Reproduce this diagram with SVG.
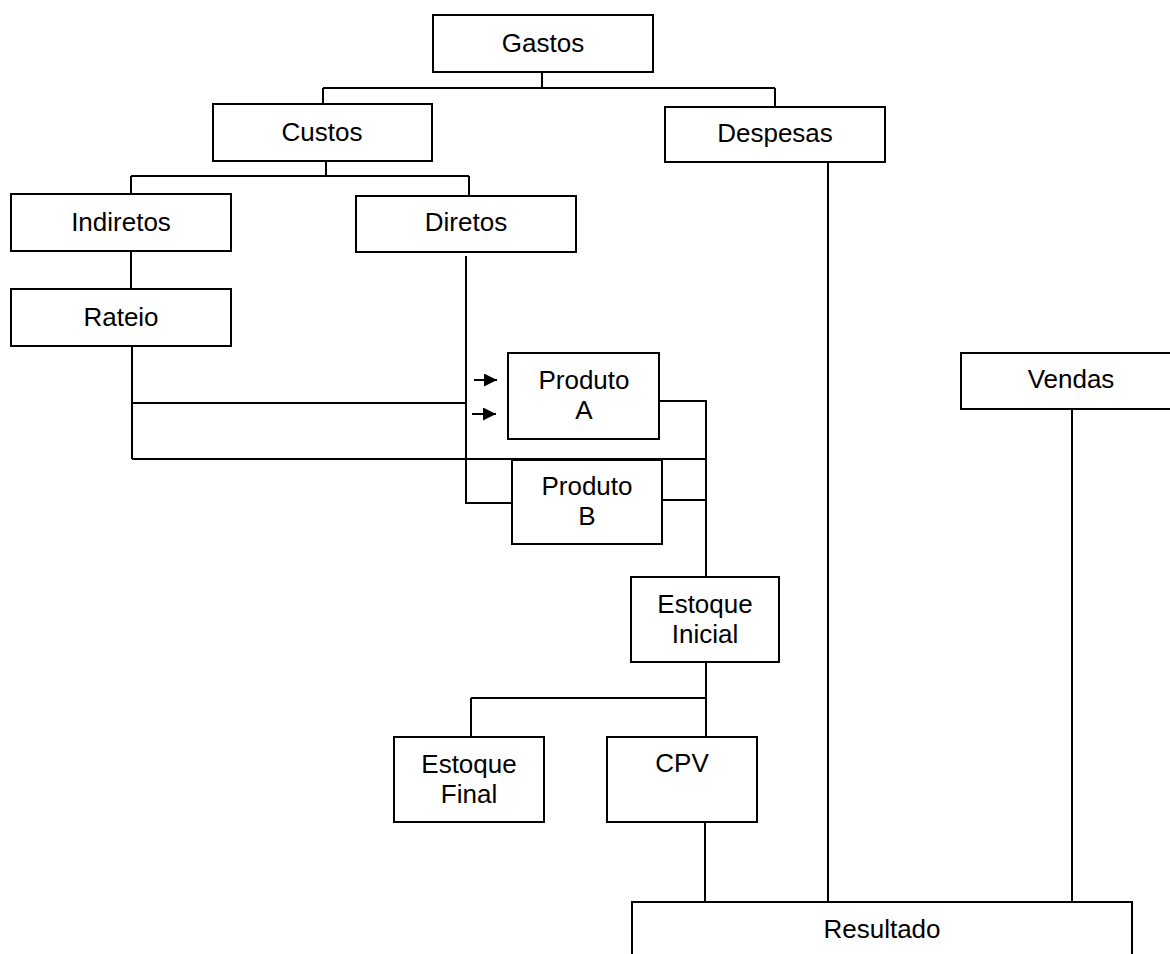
<svg xmlns="http://www.w3.org/2000/svg" width="1170" height="954" viewBox="0 0 1170 954">
<defs>
<style>
.box{fill:#fff;stroke:#000;stroke-width:2}
.ln{fill:none;stroke:#000;stroke-width:2}
text{font-family:"Liberation Sans",Arial,sans-serif;font-size:26px;fill:#000;text-anchor:middle}
</style>
<marker id="ah" viewBox="0 0 12 12" refX="12" refY="6" markerWidth="13" markerHeight="13" orient="auto" markerUnits="userSpaceOnUse">
<path d="M0,0 L12,6 L0,12 z" fill="#000"/>
</marker>
</defs>
<rect width="1170" height="954" fill="#fff"/>
<g id="connectors">
<path class="ln" d="M542,72 V88 M323,88 H775 M323,88 V104 M775,88 V107"/>
<path class="ln" d="M326,161 V176 M131,176 H469 M131,176 V194 M469,176 V196"/>
<path class="ln" d="M131,251 V289"/>
<path class="ln" d="M132,346 V459 M132,403 H466 M132,459 H706"/>
<path class="ln" d="M466,256 V503 H512"/>
<path class="ln" d="M659,401 H706 V577 M662,500 H706"/>
<path class="ln" d="M706,662 V737 M471,698 H706 M471,698 V737"/>
<path class="ln" d="M705,823 V902"/>
<path class="ln" d="M828,162 V902"/>
<path class="ln" d="M1072,409 V902"/>
<line class="ln" x1="474" y1="380" x2="497" y2="380" marker-end="url(#ah)"/>
<line class="ln" x1="472" y1="414" x2="496" y2="414" marker-end="url(#ah)"/>
</g>
<g id="gastos"><rect class="box" x="433" y="15" width="220" height="57"/><text x="543" y="52">Gastos</text></g>
<g id="custos"><rect class="box" x="213" y="104" width="219" height="57"/><text x="322" y="141">Custos</text></g>
<g id="despesas"><rect class="box" x="665" y="107" width="220" height="55"/><text x="775" y="142">Despesas</text></g>
<g id="indiretos"><rect class="box" x="11" y="194" width="220" height="57"/><text x="121" y="231">Indiretos</text></g>
<g id="diretos"><rect class="box" x="356" y="196" width="220" height="56"/><text x="466" y="231">Diretos</text></g>
<g id="rateio"><rect class="box" x="11" y="289" width="220" height="57"/><text x="121" y="326">Rateio</text></g>
<g id="produtoA"><rect class="box" x="508" y="353" width="151" height="86"/><text x="584" y="389">Produto</text><text x="584" y="419">A</text></g>
<g id="produtoB"><rect class="box" x="512" y="460" width="150" height="84"/><text x="587" y="495">Produto</text><text x="587" y="525">B</text></g>
<g id="vendas"><rect class="box" x="961" y="353" width="220" height="56"/><text x="1071" y="388">Vendas</text></g>
<g id="estoqueInicial"><rect class="box" x="631" y="577" width="148" height="85"/><text x="705" y="613">Estoque</text><text x="705" y="643">Inicial</text></g>
<g id="estoqueFinal"><rect class="box" x="394" y="737" width="150" height="85"/><text x="469" y="773">Estoque</text><text x="469" y="803">Final</text></g>
<g id="cpv"><rect class="box" x="607" y="737" width="150" height="85"/><text x="682" y="772">CPV</text></g>
<g id="resultado"><rect class="box" x="632" y="902" width="500" height="80"/><text x="882" y="938">Resultado</text></g>
</svg>
